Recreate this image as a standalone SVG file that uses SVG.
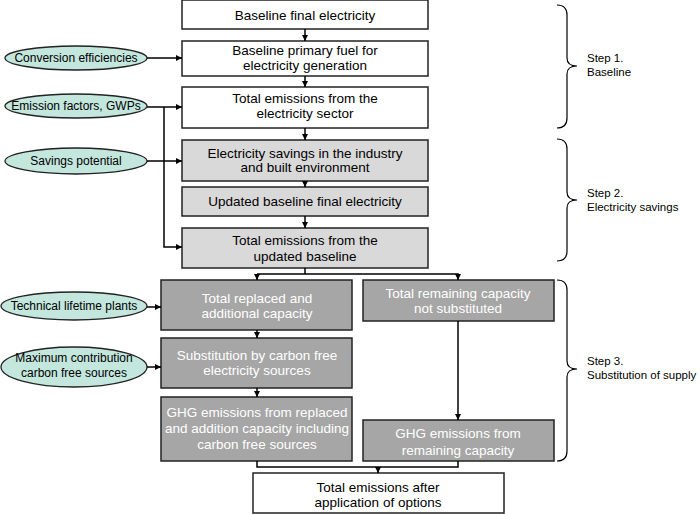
<svg xmlns="http://www.w3.org/2000/svg" width="700" height="514" viewBox="0 0 700 514">
<defs>
<marker id="ah" viewBox="0 0 10 10" refX="10" refY="5" markerWidth="6" markerHeight="6" markerUnits="userSpaceOnUse" orient="auto">
<path d="M0,0 L10,5 L0,10 z" fill="#000"/>
</marker>
<style>
text{font-family:"Liberation Sans",Arial,sans-serif;font-size:13.5px;text-anchor:middle;fill:#000}
.w rect{fill:#fff;stroke:#222;stroke-width:1.5}
.l rect{fill:#d9d9d9;stroke:#222;stroke-width:1.5}
.d rect{fill:#a6a6a6;stroke:#222;stroke-width:1.5}
.d text{fill:#fff}
.e ellipse{fill:#c3e6dd;stroke:#222;stroke-width:1.3}
.e text{font-size:12px}
.c path{fill:none;stroke:#000;stroke-width:1.5}
.a{marker-end:url(#ah)}
.b path{fill:none;stroke:#000;stroke-width:1.2}
.s text{text-anchor:start;font-size:11.5px}
</style>
</defs>
<rect width="700" height="514" fill="#fff"/>

<g id="n1" class="w"><rect x="182" y="0" width="246" height="29"/><text x="305" y="20">Baseline final electricity</text></g>
<g id="n2" class="w"><rect x="182" y="41" width="246" height="35"/><text x="305" y="55">Baseline primary fuel for</text><text x="305" y="70">electricity generation</text></g>
<g id="n3" class="w"><rect x="182" y="87" width="246" height="41"/><text x="305" y="103">Total emissions from the</text><text x="305" y="118">electricity sector</text></g>
<g id="n4" class="l"><rect x="182" y="140" width="246" height="41"/><text x="305" y="158">Electricity savings in the industry</text><text x="305" y="172">and built environment</text></g>
<g id="n5" class="l"><rect x="182" y="187" width="246" height="29"/><text x="305" y="206">Updated baseline final electricity</text></g>
<g id="n6" class="l"><rect x="182" y="228" width="246" height="40"/><text x="305" y="245">Total emissions from the</text><text x="305" y="261">updated baseline</text></g>

<g id="n7" class="d"><rect x="161" y="280" width="191" height="50"/><text x="257" y="303">Total replaced and</text><text x="257" y="318">additional capacity</text></g>
<g id="n8" class="d"><rect x="161" y="338" width="191" height="50"/><text x="257" y="360">Substitution by carbon free</text><text x="257" y="375">electricity sources</text></g>
<g id="n9" class="d"><rect x="161" y="397" width="191" height="64"/><text x="257" y="417">GHG emissions from replaced</text><text x="257" y="433">and addition capacity including</text><text x="257" y="449">carbon free sources</text></g>
<g id="n10" class="d"><rect x="363" y="280" width="191" height="41"/><text x="458" y="298">Total remaining capacity</text><text x="458" y="313">not substituted</text></g>
<g id="n11" class="d"><rect x="363" y="420" width="191" height="41"/><text x="458" y="438">GHG emissions from</text><text x="458" y="455">remaining capacity</text></g>
<g id="n12" class="w"><rect x="253" y="473" width="251" height="40"/><text x="378" y="492">Total emissions after</text><text x="378" y="507">application of options</text></g>

<g id="e1" class="e"><ellipse cx="76" cy="58" rx="71" ry="12"/><text x="76" y="62">Conversion efficiencies</text></g>
<g id="e2" class="e"><ellipse cx="76" cy="106" rx="71" ry="12"/><text x="76" y="110">Emission factors, GWPs</text></g>
<g id="e3" class="e"><ellipse cx="76" cy="161" rx="71" ry="13"/><text x="76" y="165">Savings potential</text></g>
<g id="e4" class="e"><ellipse cx="74" cy="306" rx="73" ry="14"/><text x="74" y="310">Technical lifetime plants</text></g>
<g id="e5" class="e"><ellipse cx="74" cy="367" rx="73" ry="20"/><text x="74" y="362">Maximum contribution</text><text x="74" y="377">carbon free sources</text></g>

<g id="connectors" class="c">
<path class="a" d="M305,29 V41"/>
<path class="a" d="M305,76 V87"/>
<path class="a" d="M305,128 V140"/>
<path class="a" d="M305,181 V187"/>
<path class="a" d="M305,216 V228"/>
<path class="a" d="M147,58 H182"/>
<path class="a" d="M147,107 H182"/>
<path class="a" d="M164,107 V247 H182"/>
<path class="a" d="M147,161 H182"/>
<path d="M305,268 V274"/>
<path class="a" d="M257,274 H458 V280"/>
<path class="a" d="M257,274 V280"/>
<path class="a" d="M257,330 V338"/>
<path class="a" d="M257,388 V397"/>
<path class="a" d="M147,307 H161"/>
<path class="a" d="M147,367 H161"/>
<path class="a" d="M458,321 V420"/>
<path d="M257,461 V467 H458 V461"/>
<path class="a" d="M378,467 V473"/>
</g>

<g id="braces" class="b">
<path d="M557,5 Q567,5 567,15 V58 Q567,66 577,66 Q567,66 567,74 V118 Q567,128 557,128"/>
<path d="M557,139 Q567,139 567,149 V192 Q567,200 577,200 Q567,200 567,208 V251 Q567,261 557,261"/>
<path d="M557,280 Q567,280 567,290 V361 Q567,369 577,369 Q567,369 567,377 V451 Q567,461 557,461"/>
</g>
<g id="steps" class="s">
<text x="587" y="62">Step 1.</text><text x="587" y="76">Baseline</text>
<text x="587" y="197">Step 2.</text><text x="587" y="211">Electricity savings</text>
<text x="587" y="365">Step 3.</text><text x="587" y="379">Substitution of supply</text>
</g>
</svg>
